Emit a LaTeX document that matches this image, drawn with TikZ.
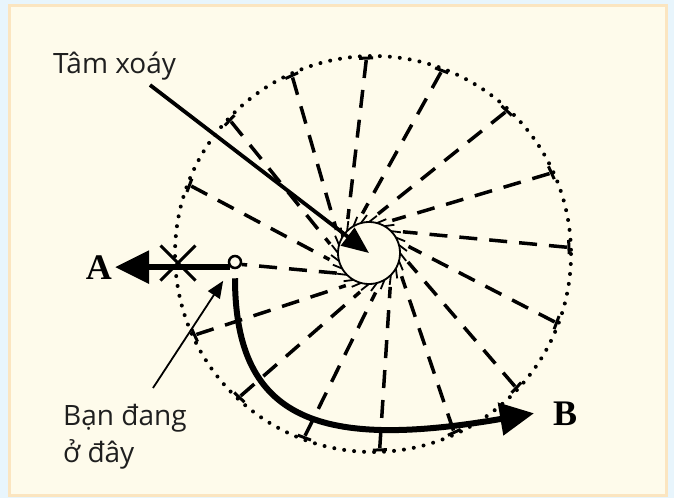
\documentclass[tikz,border=0pt]{standalone}
\usepackage{fontspec}
\setmainfont{Open Sans}
\newfontfamily\pointfont{Liberation Serif}
\usetikzlibrary{arrows.meta,calc,shapes.misc}
\definecolor{outerblue}{HTML}{E8F5FC}
\definecolor{panelrim}{HTML}{FBE5C0}
\definecolor{panelfill}{HTML}{FEFBEB}
\begin{document}
\begin{tikzpicture}[
    x=1pt, y=-1pt,
    every node/.style={inner sep=0pt},
    caption/.style={font=\fontsize{28}{37}\selectfont, align=left, text=black!88},
    endpoint/.style={font=\pointfont\bfseries\fontsize{36}{36}\selectfont, inner sep=3pt},
    ray/.style={line width=3.5pt, dash pattern=on 18pt off 12pt},
    rim/.style={line width=4pt, line cap=round, dash pattern=on 0pt off 10pt},
    fatarr/.style={line width=6pt, -{Triangle[length=34pt,width=32pt]}},
    pointer/.style={line width=1.8pt, -{Triangle[length=17pt,width=14pt]}}
]
\useasboundingbox (0,0) rectangle (674,498);
\fill[outerblue] (0,0) rectangle (674,498);
\draw[panelrim, fill=panelfill, line width=3pt] (9.5,5.5) rectangle (666,495.5);

% vortex: dotted rim, eye and spiral rays
\coordinate (vortex) at (373,254);
\draw[rim] (vortex) circle[radius=198];
\node[draw, circle, minimum size=62pt, line width=1.8pt] (eye) at (369,253) {};
\foreach \t in {0,15,...,345}
    \draw[line width=1.8pt] ($(eye)+(\t:31)$) -- ($(eye)+({\t+12}:38)$);
\foreach \a in {-2,-24.5,-47,-69.5,-92,-114.5,-137,-159.5,-204.5,-227,-249.5,-272,-294.5,-317,-339.5} {
    \draw[ray] ($(vortex)+(\a:194)$) -- ($(eye)+({\a-30}:40)$);
    \draw[line width=3pt] ($(vortex)+(\a:196)+({\a+90}:7)$) -- ($(vortex)+(\a:196)+({\a-90}:7)$);
}

\node[draw, circle, minimum size=12pt, line width=2.5pt, fill=panelfill] (ring) at (235,262) {};
\draw[ray] ($(eye)+(-212:38)$) -- (ring.-20);
\node[draw, cross out, minimum size=32pt, line width=3pt] (block) at (178,263) {};

\node[caption, anchor=base west] (tam) at (53,73) {Tâm xoáy};
\node[caption, anchor=base west] (here) at (63,462) {Bạn đang\\ở đây};
\node[endpoint, anchor=base east] (A) at (115,279) {A};
\node[endpoint, anchor=base west] (B) at (550,425) {B};

\coordinate (tamtail) at (150,85);
\coordinate (heretail) at (153,388);
\draw[line width=3.8pt, -{Triangle[length=27pt,width=22pt]}] (tamtail) -- (eye.center);
\draw[pointer, shorten >=15pt] (heretail) -- (ring.240);
\draw[fatarr] (ring.south west) -- (ring.south west -| A.east);
\draw[fatarr] ([yshift=-9pt]ring.south) .. controls +(0,145) and +(-210,36) .. ([xshift=-16pt]B.west);
\end{tikzpicture}
\end{document}
